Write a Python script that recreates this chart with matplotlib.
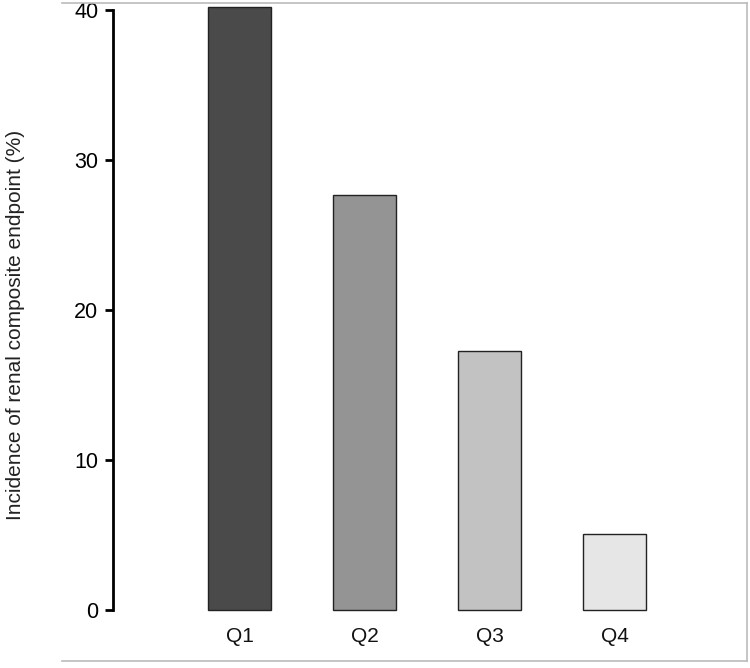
import matplotlib
matplotlib.use("Agg")
import matplotlib.pyplot as plt

categories = ["Q1", "Q2", "Q3", "Q4"]
values = [40.2, 27.7, 17.3, 5.1]
colors = ["#4a4a4a", "#949494", "#c2c2c2", "#e6e6e6"]
yticks = [0, 10, 20, 30, 40]

plt.rcParams['font.family'] = ['Liberation Sans', 'DejaVu Sans']

W, H = 750, 668
fig = plt.figure(figsize=(W / 100, H / 100), dpi=100)
# axes frame in pixels: left 62, right 747, top 3, bottom 661
ax = fig.add_axes([62 / W, 1 - 661 / H, (747 - 62) / W, (661 - 3) / H])

x = list(range(len(categories)))
ax.bar(x, values, width=0.51, color=colors, edgecolor="#222222", linewidth=1.0, zorder=3)

ax.set_xlim(-1.42, 4.06)
ax.set_ylim(-3.4, 40.47)

for s in ["top", "right", "bottom"]:
    ax.spines[s].set_color("#bbbbbb")
    ax.spines[s].set_linewidth(1.2)
ax.spines["left"].set_position(("data", -1.012))
ax.spines["left"].set_bounds(0, 40)
ax.spines["left"].set_linewidth(2.0)
ax.spines["left"].set_color("black")

ax.set_yticks(yticks)
ax.set_yticklabels([str(v) for v in yticks], fontsize=15.5)
ax.tick_params(axis="y", direction="out", length=5.5, width=2.0, pad=5, colors="black")
ax.set_xticks([])

for xi, lab in zip(x, categories):
    ax.text(xi, -1.75, lab, ha="center", va="center", fontsize=15, color="#111111")

fig.text(16 / W, 1 - 325 / H, "Incidence of renal composite endpoint (%)", rotation=90,
         ha="center", va="center", fontsize=15, color="#222222")

fig.savefig("out.png", dpi=100)
